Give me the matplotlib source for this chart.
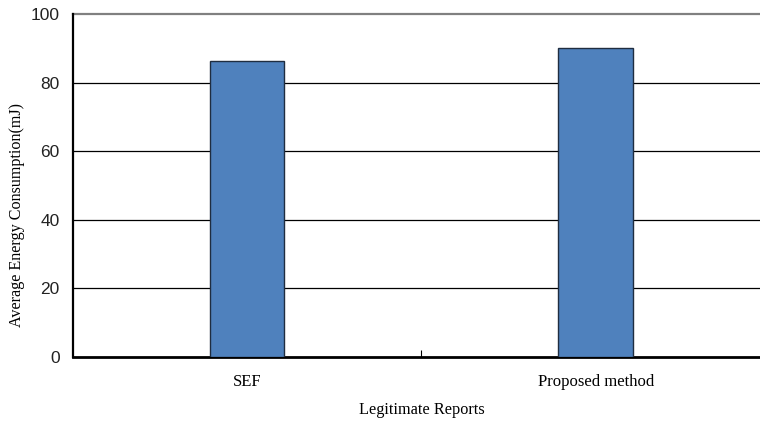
import matplotlib
matplotlib.use("Agg")
import matplotlib.pyplot as plt

categories = ["SEF", "Proposed method"]
energy = [86.4, 90.2]
y_ticks = [0, 20, 40, 60, 80, 100]

W, H = 760, 421
fig = plt.figure(figsize=(W / 100, H / 100), dpi=100)
left, right = 72.7 / W, 1.0
bottom, top = 1 - 356.7 / H, 1 - 14 / H
ax = fig.add_axes([left, bottom, right - left, top - bottom])

x = list(range(len(categories)))
ax.bar(x, energy, width=0.214, color="#4f81bd", edgecolor="#1f2d40",
       linewidth=1.0, zorder=3)

ax.set_xlim(-0.5, 1.471)
ax.set_ylim(0, 100)
ax.set_yticks(y_ticks)
ax.set_yticklabels([str(v) for v in y_ticks], fontsize=12.5,
                   family="Liberation Sans", color="#222222")
ax.tick_params(axis="y", length=0, pad=9.5)

# gridlines at each major value; the top one is drawn gray
for v in y_ticks[1:-1]:
    ax.axhline(v, color="black", linewidth=0.9, zorder=1)
ax.axhline(100, color="#808080", linewidth=1.6, zorder=1, clip_on=False)

ax.set_xticks([0.5])
ax.set_xticklabels([""])
ax.tick_params(axis="x", direction="in", length=5, width=0.8, color="black")
for xi, name in zip(x, categories):
    ax.text(xi, -7.3, name, ha="center", va="center", fontsize=12,
            family="Liberation Serif", transform=ax.transData)

ax.spines["top"].set_visible(False)
ax.spines["right"].set_visible(False)
ax.spines["left"].set_linewidth(1.6)
ax.spines["bottom"].set_linewidth(2.0)

fig.text(17 / W, 1 - 215 / H, "Average Energy Consumption(mJ)", rotation=90,
         ha="center", va="center", fontsize=11.6, family="Liberation Serif")
fig.text(422 / W, 1 - 410 / H, "Legitimate Reports", ha="center", va="center",
         fontsize=11.7, family="Liberation Serif")

fig.savefig("out.png", dpi=100)
